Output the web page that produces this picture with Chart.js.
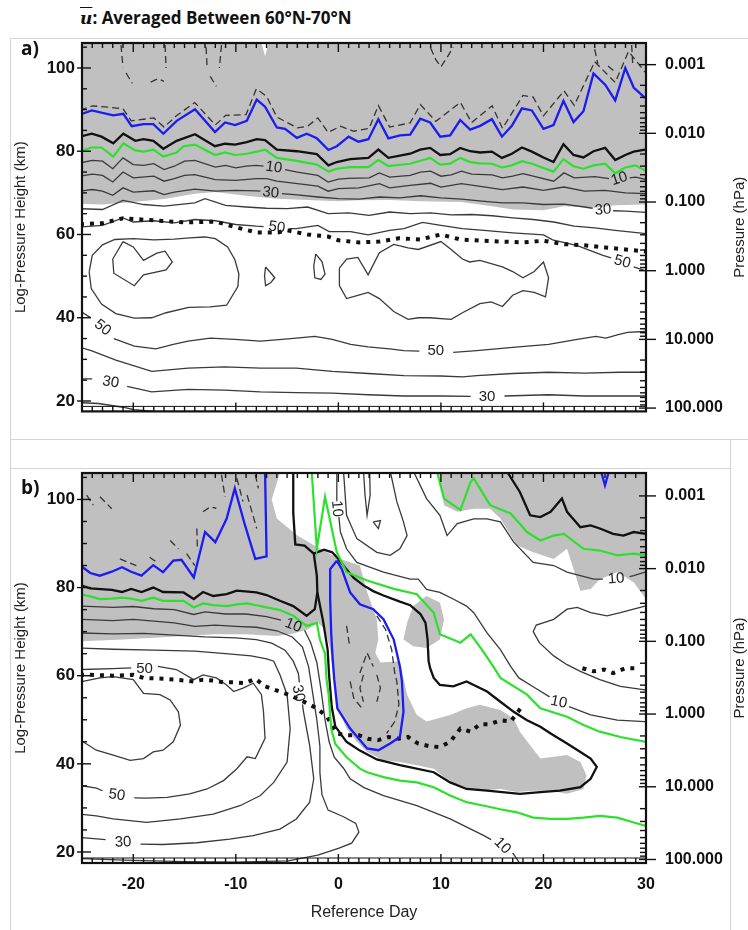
<!DOCTYPE html>
<html>
<head>
<meta charset="utf-8">
<script src="https://cdn.jsdelivr.net/npm/chart.js@4.4.1/dist/chart.umd.min.js"></script>
<style>
body{margin:0;background:#fff;width:748px;height:930px;position:relative;overflow:hidden;font-family:"Liberation Sans",Arial,sans-serif}
.box{position:absolute;border:1px solid #d4d4d4;box-sizing:border-box}
canvas{position:absolute;left:0}
.title{position:absolute;left:80px;top:6px;font:bold 17px "Open Sans",sans-serif;color:#111}
.ubar{font-family:"DejaVu Serif",serif;font-style:italic;text-decoration:overline}
.tag{position:absolute;left:21px;font:bold 19px "Open Sans",sans-serif;color:#111}
</style>
</head>
<body>
<div class="box" style="left:10px;top:38px;width:745px;height:402px"></div>
<div class="box" style="left:10px;top:439px;width:721px;height:30px"></div>
<div class="box" style="left:10px;top:468px;width:721px;height:480px"></div>
<div class="title"><span class="ubar">u</span>: Averaged Between 60°N-70°N</div>
<canvas id="chartA" width="748" height="440" style="top:0"></canvas>
<canvas id="chartB" width="748" height="500" style="top:430px"></canvas>
<div class="tag" style="top:35px">a)</div>
<div class="tag" style="top:474px">b)</div>
<script>
// axes
const dayTicks = [-20, -10, 0, 10, 20, 30];
const heightTicks = [20, 40, 60, 80, 100];
const pressureTicks = [100, 10, 1, 0.1, 0.01, 0.001];
const pressureTickLabels = ["100.000", "10.000", "1.000", "0.100", "0.010", "0.001"];

// ---------- panel a : [day, km] ----------
const aGrayArea = [[-25,106],[-7.5,106],[-7.15,102.8],[-6.8,106],[30,106],[30,67.2],[27,67.0],[25,66.4],[22,66.8],[20,65.8],[17,66.0],[15,66.8],[12,67.8],[8,68.0],[5,68.3],[2,68.2],[0,68.0],[-3,68.3],[-6,68.6],[-9,69.3],[-12,70.2],[-14,69.8],[-17,68.5],[-20,67.8],[-23,67.2],[-25,67.3],[-25,106]];
const aBlueLine = [[-25.2,88.8],[-24.05,89.8],[-21.95,88.6],[-20.97,89.0],[-20.15,86.0],[-19.0,86.5],[-18.04,86.5],[-17.07,84.2],[-15.77,87.3],[-13.98,90.1],[-12.03,84.6],[-11.05,86.9],[-10.07,86.3],[-8.93,87.3],[-7.96,92.4],[-7.15,90.7],[-6.0,85.7],[-5.2,85.4],[-4.05,83.2],[-3.08,84.2],[-2.1,83.1],[-0.97,80.3],[-0.15,81.2],[1.0,83.5],[1.96,82.3],[2.93,82.9],[3.9,87.7],[4.88,83.1],[6.02,83.8],[7.0,84.0],[7.98,87.8],[8.95,86.9],[9.93,83.5],[10.9,83.8],[11.88,87.5],[12.85,85.2],[13.83,86.1],[14.97,87.7],[15.95,83.5],[16.92,86.1],[17.9,90.3],[18.87,89.8],[20.0,85.4],[20.98,86.3],[21.95,92.1],[22.93,87.0],[23.9,89.6],[24.88,98.7],[26.02,96.0],[27.0,92.2],[27.98,100.0],[28.8,95.3],[29.9,92.8]];
const aBlackLine = [[-25.2,83.5],[-24.05,84.2],[-23.1,83.5],[-21.95,81.9],[-20.97,84.2],[-19.8,82.5],[-19.0,82.9],[-18.04,82.5],[-17.07,80.6],[-15.77,82.5],[-13.98,84.1],[-12.03,81.2],[-11.05,81.8],[-10.07,81.6],[-8.93,82.2],[-7.96,82.9],[-7.15,82.7],[-6.0,80.4],[-4.05,80.0],[-2.1,79.3],[-0.97,76.6],[-0.15,77.4],[1.15,78.1],[2.93,78.4],[3.9,80.4],[4.88,78.4],[7.0,79.4],[7.98,80.4],[8.95,80.8],[9.93,79.1],[10.9,79.3],[11.88,80.8],[12.85,80.0],[13.83,79.7],[14.97,79.9],[15.95,78.4],[16.92,79.4],[17.9,80.9],[18.87,79.9],[20.0,78.5],[20.98,77.4],[21.95,81.7],[22.93,79.1],[23.9,78.5],[24.88,80.0],[26.02,80.8],[27.0,77.9],[27.98,79.1],[28.8,79.9],[29.9,80.4]];
const aGreenLine = [[-25.2,80.0],[-24.05,80.9],[-23.1,80.9],[-21.95,78.7],[-20.97,81.9],[-19.8,80.2],[-19.0,79.9],[-18.04,80.4],[-17.07,78.7],[-15.77,79.7],[-15.1,81.2],[-13.98,81.6],[-12.03,79.1],[-11.05,79.7],[-10.07,79.1],[-8.93,79.4],[-7.96,79.9],[-7.15,80.4],[-6.0,78.4],[-4.05,77.7],[-2.1,76.8],[-0.97,75.1],[-0.15,75.8],[1.15,76.2],[2.93,76.2],[3.9,77.9],[4.88,76.4],[7.0,77.0],[8.95,78.4],[9.93,76.8],[10.9,77.0],[11.88,78.4],[12.85,77.4],[13.83,77.1],[14.97,77.0],[15.95,76.1],[16.92,76.6],[17.9,77.6],[18.87,77.0],[20.98,75.1],[21.95,78.1],[22.93,76.4],[23.9,75.8],[24.88,76.6],[26.02,77.0],[27.0,74.7],[27.98,76.1],[28.97,76.6],[29.9,75.4]];
const aDashLines = [[-25.2,89.9],[-24,90.9],[-22.5,90.6],[-21,90.2],[-20.2,87.3],[-18,88.0],[-17,85.8],[-15.8,88.5],[-14,91.7],[-12,86.3],[-11,88.6],[-9,88.8],[-8,95.0],[-7,93.2],[-6,88.2],[-4,85.6],[-3,86.0],[-2,88.0],[-1,84.5],[0.2,86.0],[1.5,84.8],[3,85.5],[3.9,91.0],[5,85.8],[7,86.8],[8,91.2],[9.5,87.2],[11.9,91.7],[13,86.9],[15,90.9],[16,85.5],[18,93.4],[19,93.0],[20,88.5],[22,94.5],[23,91.0],[25,101.5],[27,96.5],[28.3,104],[29.9,99],
  null,[-21.2,105.5],[-21.0,100.2],null,[-20.7,98.8],[-20.1,96.3],null,[-18.3,96.6],[-17.6,97.4],[-17.0,96.8],null,[-16.9,105.5],[-16.8,100],
  null,[-12.9,105],[-12.8,100.2],null,[-12.5,98],[-11.9,95.6],null,[-11.4,105.5],[-11.6,100],
  null,[9.0,104.8],[9.5,102],[10.0,100.3],[10.6,102.5],[11.2,105],null,[25.0,104.5],[25.3,101],null,[26.3,100.5],[27.0,99.0],null,[28.6,105.5],[28.7,101]];
const aDotLine = [[-25.2,62.5],[-23,62.7],[-21,63.9],[-18,63.4],[-15,62.9],[-12,63.1],[-10.1,61.8],[-8,60.5],[-5.9,60.5],[-5,61.0],[-3,60.0],[-1,59.5],[0,58.6],[2,58.1],[4,58.3],[5.9,59.1],[8,58.8],[10,60.0],[11.9,58.8],[14,58.5],[15.9,58.3],[18,58.1],[20,58.5],[21.9,57.7],[24,57.4],[26,56.9],[28,56.4],[30,55.9]];
const aC10 = [[-25.2,77.2],[-24,77.8],[-23,77.6],[-22,75.8],[-21,78.4],[-20,76.8],[-19,76.6],[-18,77.0],[-17,75.6],[-16,76.4],[-15,77.6],[-14,77.8],[-12,76.2],[-11,76.6],[-10,76.0],[-9,76.4],[-8,76.6],[-7.3,76.4],null,[-5.2,75.6],[-4,75.0],[-2,74.2],[-1,72.6],[0,73.3],[1,73.5],[3,73.6],[4,74.8],[5,73.8],[7,74.2],[8,75.0],[9,75.2],[10,74.0],[11,74.3],[12,75.2],[13,74.5],[15,74.3],[16,73.6],[17,74.0],[18,74.6],[19,74.0],[21,72.8],[22,74.8],[23,73.6],[25,73.9],[26.4,73.4],null,[28.4,73.6],[29,73.8],[30,73.2]];
const aC20 = [[-25.2,74.0],[-24,74.5],[-23,74.2],[-22,72.6],[-21,75.0],[-20,73.6],[-18,74.0],[-17,72.8],[-16,73.4],[-15,74.2],[-14,74.4],[-12,73.2],[-10,73.0],[-8,73.4],[-7,73.4],[-6,72.8],[-4,72.2],[-2,71.6],[-1,70.4],[0,71.0],[2,71.2],[4,72.2],[5,71.2],[7,71.8],[9,72.3],[10,71.4],[12,72.2],[14,71.5],[16,70.8],[18,71.4],[20,70.6],[22,71.4],[24,70.4],[26,70.6],[28,70.0],[30,69.8]];
const aC30 = [[-25.2,70.4],[-24,70.8],[-23,70.4],[-22,69.4],[-21,71.2],[-20,70.2],[-18,70.5],[-17,69.6],[-16,70.2],[-14,70.9],[-12,70.4],[-10,70.6],[-8,70.5],[-7.6,70.4],null,[-5.5,69.8],[-4,69.5],[-2,69.0],[0,68.6],[2,68.5],[4,69.0],[6,68.8],[8,69.3],[10,68.8],[12,68.5],[14,68.0],[16,67.6],[18,67.6],[20,67.2],[22,67.3],[24,66.6],[24.8,66.3],null,[26.8,65.7],[28,65.6],[30,65.3]];
const aC40 = [[-25.2,66.2],[-23,66.0],[-21,68.2],[-19,67.2],[-17,66.8],[-14,67.6],[-13,68.6],[-11,67.0],[-9,66.6],[-7,66.3],[-5,66.2],[-3,66.6],[-1,65.0],[1,65.2],[3,64.6],[5,65.4],[7,65.0],[9,65.2],[11,64.7],[13,64.8],[15,64.5],[17,64.0],[19,63.6],[21,63.0],[23,62.0],[25,61.6],[27,61.0],[30,60.2]];
const aC50 = [[-25.2,61.8],[-23,62.2],[-21,64.0],[-20,63.0],[-18,63.3],[-16,62.8],[-14,63.6],[-12,63.3],[-10,62.4],[-8,62.0],[-7.3,61.9],null,[-4.8,61.4],[-4.1,61.4],[-2.0,62.2],[-0.9,60.7],[1.2,60.7],[2.9,59.9],[5.0,61.0],[6.4,61.4],[8.2,62.9],[10.0,62.2],[12.1,61.4],[14.2,61.0],[17.0,60.4],[20.0,59.9],[20.9,58.7],[23.3,57.3],[25.8,55.0],[26.6,54.4],null,[28.8,52.2],[29.9,51.3]];
const aC50low = [[-25.2,41.6],[-24.2,40.1],null,[-21.9,35.0],[-21.7,34.8],[-19.9,33.2],[-17.8,32.5],[-16.1,33.6],[-14.65,34.4],[-12.5,35.1],[-10.1,34.8],[-7.6,34.4],[-5.5,34.8],[-4.1,35.1],[-2.3,35.5],[-0.6,34.8],[1.2,33.6],[2.9,33.0],[5.0,32.5],[6.4,32.1],[7.9,32.0],null,[11.2,31.7],[13.5,32.1],[17.0,32.9],[20.5,33.6],[23.3,34.8],[25.1,35.5],[26.1,35.1],[27.2,35.9],[28.2,36.5],[29.9,36.7]];
const aC40low = [[-25.2,32.9],[-24.1,32.1],[-21.7,29.8],[-18.2,27.1],[-14.65,27.9],[-11.1,28.2],[-7.6,27.9],[-4.1,27.9],[-0.6,27.1],[2.9,26.6],[6.4,26.1],[10.0,26.0],[12.1,25.8],[13.5,26.1],[17.0,26.6],[20.5,26.9],[24.0,26.7],[27.5,26.9],[29.9,26.9]];
const aC30low = [[-25.2,25.3],[-24.0,25.3],null,[-20.6,23.5],[-18.2,22.2],[-14.65,22.8],[-11.1,22.6],[-7.6,22.2],[-4.1,22.0],[-0.6,21.9],[2.9,21.5],[6.4,21.2],[10.0,21.2],[12.9,21.1],null,[16.2,21.2],[20.5,21.5],[24.0,21.2],[27.5,21.2],[29.9,21.2]];
const aC20low = [[-25.2,19.6],[-23.4,19.4],[-21,18.5],[-19.9,17.9],[-18,17.5]];
const aOvalLeft = [[-24.3,51],[-24.0,55],[-23.0,57.5],[-21.8,58.8],[-20,59.0],[-18,58.7],[-16,58.9],[-14.5,59.2],[-13,59.4],[-12,59.0],[-10.8,57.0],[-10.1,54.0],[-9.7,50.5],[-9.8,47.5],[-10.9,43.0],[-12.5,42.6],[-14.6,42.5],[-16.8,41.2],[-18.2,40.0],[-19.9,39.9],[-21.7,41.0],[-23.1,43.3],[-24.1,47.0],[-24.3,51]];
const aHeart = [[-21.0,58.3],[-20.0,57.0],[-19.0,53.8],[-17.7,55.5],[-16.9,56.0],[-16.2,53.4],[-16.8,51.5],[-19.0,50.3],[-19.9,47.7],[-21.9,50.7],[-22.0,54.1],[-21.0,58.3]];
const aOvalRight = [[0.1,51.9],[0.8,54.1],[1.9,54.5],[2.9,50.3],[4.0,55.6],[5.4,57.6],[6.8,56.8],[7.8,56.4],[10.0,58.3],[11.0,56.4],[12.1,54.1],[12.8,53.4],[13.8,53.8],[14.9,53.0],[16.0,52.2],[17.0,51.1],[18.0,49.6],[19.1,51.1],[20.0,53.4],[20.5,49.6],[20.2,45.0],[19.1,46.1],[18.0,46.5],[17.0,45.4],[16.0,42.7],[14.9,43.8],[13.8,43.4],[12.1,41.2],[11.0,39.6],[8.9,40.0],[7.8,40.0],[6.8,39.6],[5.4,41.5],[4.0,44.6],[2.9,46.1],[1.9,45.4],[0.8,44.6],[0.1,47.7],[0.1,51.9]];
const aBlobSmall1 = [[-7.1,52.2],[-6.5,50.5],[-6.2,49.6],[-6.6,48.4],[-7.1,47.7],[-7.2,50],[-7.1,52.2]];
const aBlobSmall2 = [[-2.2,55.3],[-1.6,53.5],[-1.3,50.5],[-1.7,49.2],[-2.3,49.6],[-2.4,52.5],[-2.2,55.3]];
const aLabels = [[-6.3,76.1,"10",8],[-6.6,70.0,"30",6],[-6.0,61.7,"50",8],[27.4,73.4,"10",-18],[25.8,65.9,"30",-4],[27.7,53.4,"50",15],[-23.0,37.6,"50",38],[9.5,32.1,"50",0],[-22.2,24.5,"30",10],[14.5,21.1,"30",0]];

// ---------- panel b : [day, km] ----------
const bGrayTopLeft = [[-25,106],[-5.7,106],[-6.5,100],[-6.0,95.7],[-4.0,91.8],[-1.8,88.8],[0.2,86.5],[2.1,85.0],[2.8,79.0],[3.3,75.8],[3.75,72.8],[3.9,68.2],[3.6,65.2],[4.1,63.0],[6.0,63.3],[6.7,55.7],[7.65,51.1],[8.6,49.6],[10.9,51.1],[12.5,52.6],[13.8,53.4],[15.8,52.2],[17.1,50.3],[17.7,47.3],[18.7,44.2],[19.7,41.2],[21.0,41.6],[22.3,42.0],[23.6,40.4],[24.2,37.4],[23.9,34.3],[22.3,33.2],[20.7,33.9],[19.0,33.9],[17.4,33.6],[15.8,34.3],[13.8,33.9],[11.9,34.7],[10.3,37.0],[9.3,38.9],[7.65,39.7],[6.0,40.4],[4.4,40.8],[2.8,42.7],[1.8,45.0],[0.8,48.0],[-0.15,53.4],[-0.5,60],[-0.8,66],[-1.3,70.5],[-2.0,72.0],[-3.0,70.5],[-4.5,69.5],[-6,69.0],[-9,69.4],[-12,69.4],[-15,69.0],[-18,68.6],[-21,68.2],[-25,67.8],[-25,106]];
const bGrayPatch = [[7.3,75.8],[8.6,78.1],[9.9,76.6],[10.3,72.8],[9.9,68.2],[8.6,66.3],[7.3,66.7],[6.35,68.2],[6.7,72.0],[7.3,75.8]];
const bGrayTopRight = [[9.8,106],[30,106],[30,77.4],[28.8,81.2],[27.2,83.5],[25.5,81.9],[24.6,79.7],[23.6,79.3],[22.3,88.8],[21.0,86.5],[19.0,88.0],[17.4,89.6],[15.8,95.7],[14.8,97.9],[13.2,97.9],[11.6,97.2],[10.3,98.7],[9.8,106]];
const bBlueLeft = [[-25.2,85.1],[-24.2,83.3],[-23.25,82.7],[-22.1,83.6],[-21.1,84.6],[-20.2,83.6],[-19.2,82.7],[-18.05,85.1],[-17.1,83.5],[-16.1,86.1],[-15.3,86.3],[-14.1,82.3],[-13.0,92.6],[-12.0,90.3],[-10.9,95.6],[-10.1,102.5],[-9.1,94.1],[-8.1,86.5],[-7.0,87.1],[-7.15,106.5]];
const bBlueLoop = [[-0.15,86.1],[-0.8,84.2],[-0.8,77.4],[-0.7,69.7],[-0.55,63.7],[-0.4,59.1],[-0.1,52.6],[1.15,48.0],[2.8,43.5],[3.9,43.1],[5.05,44.6],[6.0,46.1],[6.35,51.8],[6.2,58.7],[6.0,62.1],[5.4,68.2],[4.4,72.8],[3.4,75.1],[2.1,76.2],[1.15,78.9],[0.33,84.2],[-0.15,86.1]];
const bBlueTip = [[25.6,106.5],[26.0,103.2],[26.4,106.5]];
const bBlackLeft = [[-25.2,80.6],[-24.2,79.8],[-22.1,79.5],[-21.1,79.0],[-20.2,79.7],[-19.2,79.0],[-18.05,80.0],[-17.1,79.0],[-15.1,78.9],[-14.1,77.4],[-13.2,79.0],[-12.2,78.1],[-10.9,78.5],[-9.9,79.3],[-8.0,78.9],[-7.0,78.3],[-5.7,77.0],[-4.4,75.8],[-3.1,73.6],[-2.3,75.1],[-2.05,78.9],[-2.1,82.7],[-2.4,87.7],[-3.3,89.5],[-4.2,89.8],[-4.4,97],[-4.4,106.5]];
const bBlackLoop = [[-2.05,78.9],[-1.5,72.5],[-1.05,66],[-0.9,60],[-0.65,53],[-0.3,48.5],[0.8,45.0],[2.1,43.0],[3.75,41.0],[6.0,39.7],[9.3,38.1],[10.9,35.8],[12.5,34.3],[14.5,33.9],[17.7,33.2],[19.7,33.6],[21.6,33.9],[23.6,34.7],[24.6,36.6],[25.2,39.3],[24.6,41.2],[23.6,42.7],[22.3,44.6],[20.7,46.9],[19.7,48.4],[18.4,49.9],[17.1,51.8],[15.8,54.1],[14.5,56.4],[13.2,57.9],[12.5,58.7],[11.2,57.6],[9.9,57.9],[9.3,59.5],[8.95,61.7],[8.8,63.3],[8.7,68.2],[8.5,72.0],[8.0,74.0],[7.0,76.0],[6.0,76.8],[4.4,78.2],[3.4,79.2],[2.45,80.5],[1.5,82.2],[0.66,84.5],[0.0,86.5],[-0.6,88.0],[-1.4,88.6],[-2.4,87.7]];
const bBlackTopRight = [[16.4,106.5],[17.7,101.7],[18.7,96.4],[19.7,96.0],[20.7,97.2],[21.8,100.2],[22.3,97.2],[23.6,93.7],[24.6,94.1],[25.5,93.4],[26.8,92.2],[27.8,91.8],[28.8,92.6],[30,92.2]];
const bGreenLeft = [[-25.2,78.5],[-24.2,78.0],[-23.25,77.4],[-22.1,77.5],[-21.1,77.7],[-20.2,77.5],[-19.2,77.0],[-18.05,77.7],[-17.1,77.0],[-15.1,77.0],[-14.1,75.5],[-13.2,76.4],[-12.2,76.0],[-10.9,75.8],[-9.9,76.2],[-8.9,76.4],[-8.0,76.0],[-7.0,75.5],[-5.7,74.9],[-4.4,73.6],[-3.1,71.3],[-2.1,72.0],[-1.8,68.2],[-1.3,65.0],[-1.15,59.1],[-0.95,55.7],[-0.7,48.0],[-0.3,44.5],[0.8,41.5],[2.1,38.9],[2.8,38.1],[4.4,37.0],[6.0,36.2],[7.65,35.8],[9.3,34.7],[10.9,32.8],[12.5,31.3],[14.2,30.5],[15.8,29.7],[17.4,29.0],[19.0,27.8],[20.7,27.5],[22.3,27.5],[23.9,27.8],[25.5,28.2],[27.2,27.8],[28.8,26.7],[30,25.9]];
const bGreenMid = [[-2.6,106.5],[-2.1,88.8],[-1.3,100.6],[-0.15,88.0],[0.8,83.5],[2.8,81.6],[5.4,79.7],[7.65,78.5],[9.3,74.3],[9.9,69.4],[11.9,67.5],[12.9,69.4],[14.0,65.9],[15.1,62.1],[15.8,59.5],[18.4,55.7],[19.7,52.6],[22.3,50.7],[23.9,48.8],[25.5,47.3],[27.5,46.1],[30,45.0]];
const bGreenTopRight = [[9.6,106.5],[10.3,100.2],[11.9,97.6],[12.9,104.0],[13.2,104.8],[13.8,102.5],[14.8,98.7],[16.8,96.8],[18.4,92.6],[19.7,90.7],[21.0,91.8],[22.0,92.2],[23.9,88.8],[25.5,88.4],[27.2,87.3],[28.8,87.7],[30,87.3]];
const bC10left = [[-25.2,75.8],[-22,75.5],[-20,75.7],[-18,75.2],[-16,75.0],[-14.1,73.9],[-13,74.5],[-11,74.0],[-9,74.0],[-7,73.4],[-5.6,72.6],null,[-3.3,70.3],[-2.7,67.5],[-2.1,63],[-1.7,57],[-1.3,50],[-0.9,45],[-0.4,41.5],[0.5,39.0],[1.15,36.6],[2.5,34.6],[4.4,32.8],[7.65,30.5],[10.9,27.5],[14.2,23.7],[14.9,22.8],null,[17.0,19.8],[17.7,17.4]];
const bC20left = [[-25.2,72.8],[-22,72.5],[-20,72.8],[-18,72.4],[-16,72.0],[-14,71.2],[-12,71.5],[-10,71.2],[-8,71.0],[-6,70.2],[-4.5,68.8],[-3.5,66.5],[-2.9,62],[-2.5,56],[-2.1,50],[-1.8,44],[-1.8,38],[-1.6,33],[-1.0,29.5],[0.5,28.0],[1.7,26.5],[2.0,24.5],[1.3,22.0],[0,20.8],[-2.0,19.3],[-4.9,18.0],[-10,17.7],[-15,17.8],[-20,18.1],[-23,18.3],[-25.2,18.5]];
const bC30left = [[-25.2,69.7],[-22,69.5],[-19,69.6],[-16,69.2],[-13,68.8],[-10,68.6],[-8,68.2],[-6.5,67.4],[-5.2,65.8],[-4.4,63.3],[-3.9,60.5],[-3.8,58.5],null,[-3.5,53.5],[-3.4,51.8],[-2.8,44.2],[-2.4,36.6],[-2.8,31.3],[-4.1,27.5],[-5.7,25.2],[-8.3,23.7],[-10.6,22.9],[-13.8,22.1],[-17.1,21.7],[-19.3,21.8],null,[-22.7,22.8],[-25.2,23.3]];
const bC40left = [[-25.2,66.3],[-22,66.0],[-18,65.8],[-14,65.6],[-11,65.0],[-8.5,64.5],[-7,63.8],[-6.3,63.3],[-5.7,60.2],[-5.0,55.7],[-4.7,48.0],[-5.0,40.4],[-6.3,35.8],[-7.6,32.8],[-9.6,30.5],[-12.2,28.6],[-15.4,27.5],[-18.7,26.7],[-21.95,27.5],[-23.6,28.2],[-25.2,28.6]];
const bC50left = [[-25.2,61.4],[-22,61.6],[-20.2,61.8],null,[-17.6,62.1],[-15.8,61.4],[-14.1,59.1],[-13.2,60.2],[-11.9,59.5],[-10.9,57.9],[-10.2,56.4],[-9.3,57.2],[-8.3,58.3],[-7.5,55.7],[-7.3,51.8],[-7.15,45.8],[-8.1,41.2],[-8.9,41.6],[-9.9,38.9],[-11.2,36.2],[-12.8,34.3],[-14.5,33.2],[-16.7,32.4],[-18.7,32.2],[-19.9,32.3],null,[-23.0,33.9],[-23.6,34.5],[-25.2,35.1]];
const bC60left = [[-25.2,58.5],[-24.9,58.7],[-23.25,59.5],[-21.95,59.8],[-20.0,59.1],[-19.0,56.0],[-17.4,55.7],[-16.4,54.5],[-15.6,51.8],[-15.4,48.8],[-16.1,45.0],[-17.1,43.1],[-18.05,42.7],[-19.0,41.2],[-20.3,40.8],[-21.95,42.0],[-23.6,43.1],[-24.9,45.0],[-25.2,45.3]];
const bC10mid = [[-0.15,106.5],[-0.15,99.6],null,[0.05,96.0],[0.2,92.6],[0.8,88.8],[1.8,85.7],[4.4,83.5],[7.0,81.9],[7.8,81.9],[8.6,79.6],[9.9,78.9],[11.2,77.4],[12.5,75.8],[13.2,74.3],[14.5,69.7],[15.8,65.9],[16.8,62.1],[17.6,59.5],[19.0,57.5],[20.6,55.2],null,[22.5,53.0],[24.6,51.1],[27.2,49.9],[29.9,49.6]];
const bC10topRight = [[7.3,106.5],[8.6,100.2],[9.9,96.4],[10.6,91.8],[11.6,94.5],[13.2,95.6],[14.5,95.6],[15.8,94.9],[17.1,90.3],[19.0,85.7],[21.0,85.0],[22.3,83.5],[24.9,81.9],[25.8,81.9],null,[28.4,82.5],[28.8,82.7],[29.9,83.5]];
const bCupTop = [[0.5,106.5],[0.8,96.4],[1.8,91.1],[3.75,88.0],[5.05,87.3],[6.0,88.8],[6.7,91.8],[6.35,94.9],[5.7,99.5],[5.05,106.5]];
const bSpike = [[2.45,106.5],[2.6,101],[2.8,96.4],[3.1,101],[3.05,106.5]];
const bTri = [[3.4,94.9],[3.9,93.4],[4.1,95.2],[3.4,94.9]];
const bCright = [[29.9,75.8],[27.5,74.3],[26.2,73.6],[24.6,74.3],[23.3,75.5],[22.3,75.1],[21.0,72.8],[19.3,71.5],[19.0,70.0],[19.6,67.5],[21.0,64.5],[22.3,62.5],[23.6,61.0],[25.5,59.1],[27.5,57.6],[29.9,56.8]];
const bDashLines = [[-24.55,101],[-23.9,98.7],null,[-23.25,100.6],[-22.1,97.9],null,[-21.3,86.5],[-19.7,85.0],null,[-18.4,86.9],[-17.7,85.7],null,[-16.4,90.7],[-15.6,88.8],null,[-14.8,87.7],[-14.0,85.0],null,[-13.8,93.4],[-13.75,88.8],null,[-13.2,97.2],[-12.5,98.3],[-11.9,98.0],null,[-11.4,105.6],[-11.05,100.6],null,[-9.9,104.8],[-9.3,99.5],null,[-8.9,101],[-7.96,93.4],null,[-8.1,105.6],[-7.8,102.5]];
const bDashLoop = [[3.75,73.6],[4.6,70.5],[5.2,65.9],[5.5,60.6],[5.7,58.7],[5.9,53.4],[5.5,49.6],[4.7,46.9],null,[1.15,58.7],[1.5,54.9],[2.3,52.6],null,[2.1,60.6],[2.8,65.2],[3.4,62.1],null,[2.45,60.2],[2.1,57.2],[2.45,54.1],null,[3.75,60.2],[4.1,57.2],[3.75,54.1],null,[0.8,71.3],[1.1,66.7]];
const bDotLine = [[-25.2,60.2],[-24.2,60.2],[-22,60.0],[-20,60.2],[-19,59.5],[-17,59.3],[-15,58.9],[-14.1,58.7],[-13.2,59.1],[-12.2,58.9],[-11.2,58.5],[-10.1,58.5],[-9.1,58.3],[-8.1,59.3],[-7.15,57.6],[-6.2,56.8],[-5.2,56.0],[-4.2,55.0],[-3.1,53.8],[-2.1,52.6],[-1.1,50.7],[-0.15,46.9],[0.8,46.5],[2.0,46.5],[2.9,45.7],[3.9,45.4],[4.9,46.1],[5.9,45.7],[6.8,46.1],[7.8,44.6],[8.9,44.0],[9.9,43.8],[10.9,45.0],[11.9,48.0],[12.9,47.3],[13.8,49.0],[14.8,49.0],[15.8,49.9],[16.8,49.6],[17.9,53.0],null,[23.8,61.7],[24.9,61.0],[25.9,61.4],[26.8,60.6],[28.0,61.7],[28.95,61.7]];
const bLabels = [[-4.4,71.4,"10",22],[-0.15,97.9,"10",85],[-18.9,61.6,"50",0],[-21.6,32.9,"50",8],[-3.9,56.0,"30",78],[-21.0,22.2,"30",-3],[16.0,21.4,"10",45],[21.5,54.0,"10",12],[27.1,82.0,"10",-5]];

const FONT = '"Liberation Sans", Arial, sans-serif';
const GRAY = "#c0c0c0";
const styles = {
	fill: { fill: true },
	thin: { color: "#3a3a3a", width: 1.3, order: 4 },
	dash: { color: "#333", width: 1.3, dash: [7, 4], order: 4 },
	dot: { color: "#111", width: 4, dash: [4, 6], order: 3 },
	black: { color: "#111", width: 2.3, order: 2 },
	green: { color: "#2ee02e", width: 2.2, order: 1 },
	blue: { color: "#1c1cf2", width: 2.3, order: 0 },
};

// log-pressure height of a pressure level (hPa)
function presKm(p) {
	return 1.8 + 16.5 * Math.log10(1000 / p);
}

function pts(arr) {
	const out = [];
	let lastX = 0;
	for (const p of arr) {
		if (p === null) out.push({ x: lastX, y: null });
		else {
			out.push({ x: p[0], y: p[1] });
			lastX = p[0];
		}
	}
	return out;
}

function toDataset([data, key]) {
	const st = styles[key];
	if (st.fill) {
		return { data: pts(data), backgroundColor: GRAY, borderColor: "rgba(0,0,0,0)", borderWidth: 1, pointRadius: 0, fill: "shape", order: 10 };
	}
	return {
		data: pts(data),
		borderColor: st.color,
		borderWidth: st.width,
		borderDash: st.dash || [],
		pointRadius: 0,
		fill: false,
		tension: 0,
		order: st.order,
	};
}

const framePlugin = {
	id: "frame",
	afterDraw(chart) {
		const { ctx, chartArea: a, scales } = chart;
		const x = scales.x, y = scales.y;
		const seg = (x1, y1, x2, y2) => {
			ctx.beginPath();
			ctx.moveTo(x1, y1);
			ctx.lineTo(x2, y2);
			ctx.stroke();
		};
		ctx.save();
		ctx.strokeStyle = "#111";
		ctx.lineWidth = 1.4;
		for (let d = -25; d <= 30; d++) {
			const px = x.getPixelForValue(d);
			const len = d % 10 === 0 ? 9 : 5;
			seg(px, a.bottom, px, a.bottom - len);
			seg(px, a.top, px, a.top + len);
		}
		for (let h = 20; h <= 105; h += 5) {
			const py = y.getPixelForValue(h);
			if (h % 20 === 0) seg(a.left - 5, py, a.left + 9, py);
			else seg(a.left, py, a.left + 5, py);
		}
		for (let k = -3; k <= 2; k++) {
			for (let m = 1; m <= 9; m++) {
				const h = presKm(m * Math.pow(10, k));
				if (h < y.min || h > y.max) continue;
				const py = y.getPixelForValue(h);
				if (m === 1) seg(a.right - 7, py, a.right + 10, py);
				else seg(a.right - 6, py, a.right, py);
			}
		}
		ctx.lineWidth = 1;
		seg(a.left, a.bottom - 5, a.right, a.bottom - 5);
		ctx.lineWidth = 2.2;
		ctx.strokeRect(a.left, a.top, a.right - a.left, a.bottom - a.top);
		// right axis title, reading upwards
		ctx.fillStyle = "#222";
		ctx.font = "15px " + FONT;
		ctx.textAlign = "center";
		ctx.textBaseline = "middle";
		ctx.translate(chart.width - 8, (a.top + a.bottom) / 2);
		ctx.rotate(-Math.PI / 2);
		ctx.fillText("Pressure (hPa)", 0, 0);
		ctx.restore();
	},
};

const labelPlugin = {
	id: "contourLabels",
	afterDatasetsDraw(chart, args, opts) {
		const { ctx, scales } = chart;
		ctx.save();
		ctx.font = "15px " + FONT;
		ctx.fillStyle = "#222";
		ctx.textAlign = "center";
		ctx.textBaseline = "middle";
		for (const [d, h, t, ang] of opts.items) {
			ctx.save();
			ctx.translate(scales.x.getPixelForValue(d), scales.y.getPixelForValue(h));
			ctx.rotate((ang * Math.PI) / 180);
			ctx.fillText(t, 0, 0);
			ctx.restore();
		}
		ctx.restore();
	},
};

function buildChart(id, series, labels, showX) {
	const tickFont = { size: 17, weight: "bold", family: FONT };
	return new Chart(document.getElementById(id), {
		type: "line",
		data: { datasets: series.map(toDataset) },
		options: {
			responsive: false,
			animation: false,
			devicePixelRatio: 1,
			layout: { padding: { left: 0, right: 0, top: 43, bottom: showX ? 0 : 10 } },
			plugins: {
				legend: { display: false },
				tooltip: { enabled: false },
				contourLabels: { items: labels },
			},
			scales: {
				x: {
					type: "linear",
					min: -25,
					max: 30,
					display: showX,
					grid: { display: false, drawTicks: false },
					border: { display: false },
					afterBuildTicks: (s) => {
						s.ticks = dayTicks.map((v) => ({ value: v }));
					},
					afterFit: (s) => {
						s.height = showX ? 67 : 0;
					},
					ticks: { padding: 12, color: "#111", font: { size: 16, weight: "bold", family: FONT }, maxRotation: 0, autoSkip: false },
					title: { display: true, text: "Reference Day", color: "#222", font: { size: 16, family: FONT }, padding: { top: 0, bottom: 8 } },
				},
				y: {
					type: "linear",
					position: "left",
					min: 17.5,
					max: 106,
					grid: { display: false, drawTicks: false },
					border: { display: false },
					afterBuildTicks: (s) => {
						s.ticks = heightTicks.map((v) => ({ value: v }));
					},
					afterFit: (s) => {
						s.width = 82;
					},
					ticks: { padding: 7, color: "#111", font: tickFont, autoSkip: false },
					title: { display: true, text: "Log-Pressure Height (km)", color: "#222", font: { size: 15, family: FONT }, padding: { top: 12, bottom: 0 } },
				},
				y2: {
					type: "linear",
					position: "right",
					min: 17.5,
					max: 106,
					grid: { display: false, drawTicks: false },
					border: { display: false },
					afterBuildTicks: (s) => {
						s.ticks = pressureTicks.map((p) => ({ value: presKm(p) }));
					},
					afterFit: (s) => {
						s.width = 102;
					},
					ticks: {
						padding: 19,
						color: "#111",
						font: { size: 16, weight: "bold", family: FONT },
						autoSkip: false,
						callback: (v, i) => pressureTickLabels[i],
					},
				},
			},
		},
		plugins: [framePlugin, labelPlugin],
	});
}

buildChart(
	"chartA",
	[
		[aGrayArea, "fill"],
		[aC10, "thin"], [aC20, "thin"], [aC30, "thin"], [aC40, "thin"], [aC50, "thin"],
		[aC50low, "thin"], [aC40low, "thin"], [aC30low, "thin"], [aC20low, "thin"],
		[aOvalLeft, "thin"], [aHeart, "thin"], [aOvalRight, "thin"], [aBlobSmall1, "thin"], [aBlobSmall2, "thin"],
		[aDashLines, "dash"],
		[aDotLine, "dot"],
		[aBlackLine, "black"],
		[aGreenLine, "green"],
		[aBlueLine, "blue"],
	],
	aLabels,
	false
);

buildChart(
	"chartB",
	[
		[bGrayTopLeft, "fill"], [bGrayPatch, "fill"], [bGrayTopRight, "fill"],
		[bC10left, "thin"], [bC20left, "thin"], [bC30left, "thin"], [bC40left, "thin"], [bC50left, "thin"], [bC60left, "thin"],
		[bC10mid, "thin"], [bC10topRight, "thin"], [bCupTop, "thin"], [bSpike, "thin"], [bTri, "thin"], [bCright, "thin"],
		[bDashLines, "dash"], [bDashLoop, "dash"],
		[bDotLine, "dot"],
		[bBlackLeft, "black"], [bBlackLoop, "black"], [bBlackTopRight, "black"],
		[bGreenLeft, "green"], [bGreenMid, "green"], [bGreenTopRight, "green"],
		[bBlueLeft, "blue"], [bBlueLoop, "blue"], [bBlueTip, "blue"],
	],
	bLabels,
	true
);
</script>
</body>
</html>
